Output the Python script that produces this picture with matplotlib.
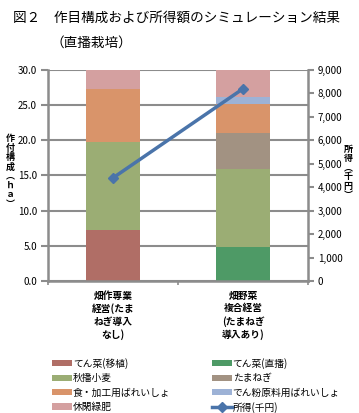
import matplotlib
matplotlib.use("Agg")
import matplotlib.pyplot as plt
import numpy as np

plt.rcParams["font.family"] = ["Noto Sans CJK JP", "DejaVu Sans"]

# data
categories = ["畑作専業\n経営(たま\nねぎ導入\nなし)", "畑野菜\n複合経営\n(たまねぎ\n導入あり)"]
series_names = ["てん菜(移植)", "てん菜(直播)", "秋播小麦", "たまねぎ",
                "食・加工用ばれいしょ", "でん粉原料用ばれいしょ", "休閑緑肥"]
tensai_ishoku = [7.3, 0.0]
tensai_chokuha = [0.0, 4.9]
komugi = [12.4, 11.0]
tamanegi = [0.0, 5.2]
bareisho_shoku = [7.6, 4.1]
bareisho_denpun = [0.0, 0.9]
kyukan = [2.7, 3.9]
income = [4400, 8200]  # 千円

colors = ["#B06E66", "#4E9A66", "#9BAD74", "#A29282", "#D9946A", "#9DB2D6", "#D4A0A0"]
line_color = "#4A74AA"
grid_color = "#8C8C8C"

fig = plt.figure(figsize=(3.59, 4.13), dpi=100)
ax = fig.add_axes([0.134, 0.3196, 0.724, 0.511])

x = np.arange(len(categories))
width = 0.41
bottom = np.zeros(len(categories))
handles = {}
for name, vals, c in zip(series_names,
                         [tensai_ishoku, tensai_chokuha, komugi, tamanegi,
                          bareisho_shoku, bareisho_denpun, kyukan], colors):
    vals = np.array(vals)
    h = ax.bar(x, vals, width, bottom=bottom, color=c, zorder=2)
    handles[name] = h
    bottom += vals

ax.set_xlim(-0.5, 1.5)
ax.set_ylim(0, 30)
ax.set_yticks(np.arange(0, 30.1, 5))
ax.set_yticklabels([f"{v:.1f}" for v in np.arange(0, 30.1, 5)])
ax.yaxis.grid(True, color=grid_color, lw=1.5, zorder=0)
ax.set_axisbelow(True)
ax.set_xticks(x)
ax.set_xticklabels(categories, fontsize=7, linespacing=1.3, va="top", fontweight="bold")
ax.set_xticks([-0.5, 0.5, 1.5], minor=True)
ax.tick_params(axis="x", which="major", length=0, pad=7)
ax.tick_params(axis="x", which="minor", length=3, width=1.2, color=grid_color)
ax.tick_params(axis="y", length=5, width=1.5, color=grid_color, labelsize=7, pad=3)
for s in ["left", "bottom", "right"]:
    ax.spines[s].set_color(grid_color)
    ax.spines[s].set_linewidth(1.8)
ax.spines["top"].set_visible(False)

ax2 = ax.twinx()
ax2.set_ylim(0, 9000)
ax2.set_yticks(np.arange(0, 9001, 1000))
ax2.set_yticklabels([f"{v:,}" for v in range(0, 9001, 1000)])
ax2.tick_params(axis="y", length=4, width=1.5, color=grid_color, labelsize=7, pad=3)
for s in ["left", "bottom", "right", "top"]:
    ax2.spines[s].set_visible(False)
ln, = ax2.plot(x, income, color=line_color, lw=2.5, marker="D", markersize=5, zorder=3)


# vertical axis titles, one character per row
def vertical_label(xpos, ytop, chars, step=9.3):
    for i, ch in enumerate(chars):
        fig.text(xpos / 359, 1 - (ytop + i * step) / 413, ch, fontsize=6.5,
                 ha="center", va="center", fontweight="bold")


vertical_label(10, 139, "作付構成︵ｈａ︶")
vertical_label(348, 149, "所得︵千円︶")

# title
fig.text(0.035, 0.957, "図２　作目構成および所得額のシミュレーション結果", fontsize=9.8, va="center")
fig.text(0.14, 0.897, "（直播栽培）", fontsize=9.8, va="center")

order = ["てん菜(移植)", "秋播小麦", "食・加工用ばれいしょ", "休閑緑肥",
         "てん菜(直播)", "たまねぎ", "でん粉原料用ばれいしょ"]
hs = [handles[n] for n in order] + [ln]
labels = order + ["所得(千円)"]
fig.legend(hs, labels, ncol=2, loc="upper left", bbox_to_anchor=(0.135, 0.143),
           frameon=False, fontsize=7, handlelength=2.0, handleheight=0.6,
           handletextpad=0.1, columnspacing=4.3, labelspacing=0.45, borderaxespad=0)

fig.savefig("out.png", dpi=100)
